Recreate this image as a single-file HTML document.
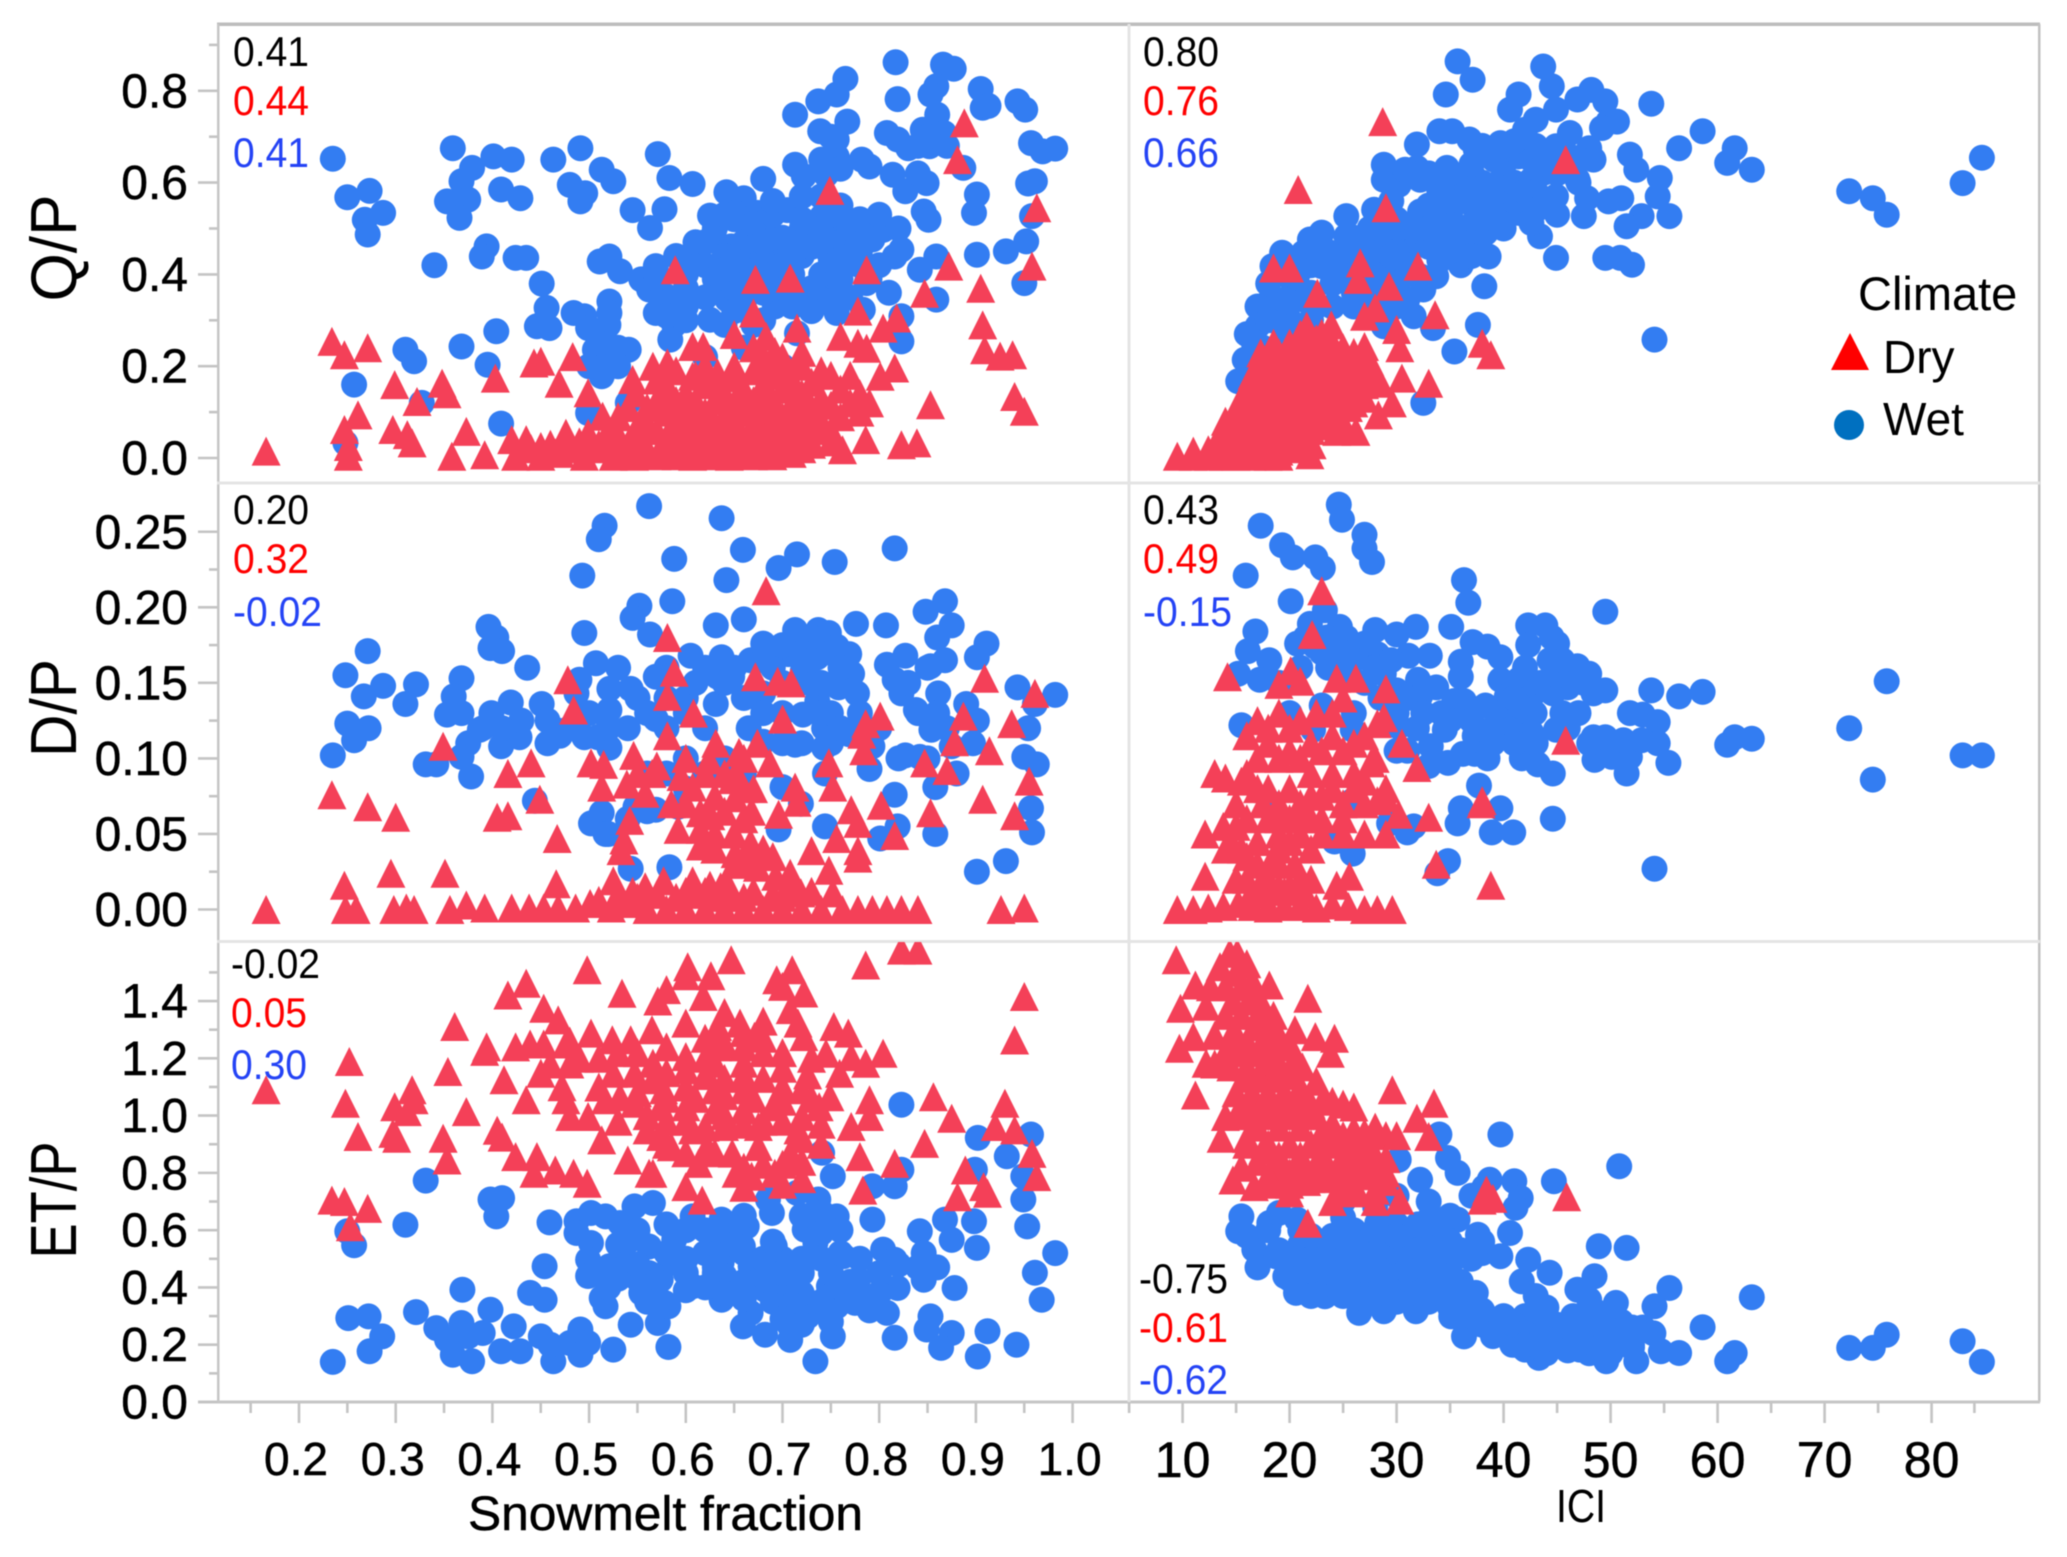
<!DOCTYPE html>
<html lang="en">
<head>
<meta charset="utf-8">
<title>Snowmelt fraction and ICI scatter matrix</title>
<style>
html,body{margin:0;padding:0;background:#fff;}
svg{display:block;filter:blur(.5px);}
text{font-family:"Liberation Sans",sans-serif;fill:#000;}
</style>
</head>
<body>
<svg id="chart" xmlns="http://www.w3.org/2000/svg" width="2067" height="1557" viewBox="0 0 2067 1557">
<rect x="0" y="0" width="2067" height="1557" fill="#fff"/>
<g id="frame">
<rect x="217" y="22.5" width="1823" height="3.5" fill="#bdbdbd"/>
<rect x="217" y="24" width="2.5" height="1378" fill="#c6c6c6"/>
<rect x="2038" y="24" width="2.5" height="1378" fill="#c2c2c2"/>
<rect x="198" y="1400.5" width="1842" height="3" fill="#c6c6c6"/>
<rect x="217" y="481.5" width="1823" height="3" fill="#e4e4e4"/>
<rect x="217" y="940" width="1823" height="3" fill="#e4e4e4"/>
<rect x="1127.5" y="24" width="3" height="1378" fill="#e4e4e4"/>
</g>
<g id="ticks"></g>
<g id="marks"></g>
<g id="corr" font-size="42">
<text x="233" y="66">0.41</text>
<text x="233" y="115" style="fill:#f00">0.44</text>
<text x="233" y="167" style="fill:#2443f5">0.41</text>
<text x="1143" y="66">0.80</text>
<text x="1143" y="115" style="fill:#f00">0.76</text>
<text x="1143" y="167" style="fill:#2443f5">0.66</text>
<text x="233" y="524">0.20</text>
<text x="233" y="573" style="fill:#f00">0.32</text>
<text x="233" y="626" style="fill:#2443f5">-0.02</text>
<text x="1143" y="524">0.43</text>
<text x="1143" y="573" style="fill:#f00">0.49</text>
<text x="1143" y="626" style="fill:#2443f5">-0.15</text>
<text x="231" y="978">-0.02</text>
<text x="231" y="1027" style="fill:#f00">0.05</text>
<text x="231" y="1079" style="fill:#2443f5">0.30</text>
<text x="1139" y="1293">-0.75</text>
<text x="1139" y="1342" style="fill:#f00">-0.61</text>
<text x="1139" y="1394" style="fill:#2443f5">-0.62</text>
</g>
<g>
<text transform="translate(76,248) rotate(-90)" text-anchor="middle" font-size="65" textLength="107" lengthAdjust="spacingAndGlyphs">Q/P</text>
<text transform="translate(76,708) rotate(-90)" text-anchor="middle" font-size="65" textLength="98" lengthAdjust="spacingAndGlyphs">D/P</text>
<text transform="translate(76,1200) rotate(-90)" text-anchor="middle" font-size="65" textLength="117" lengthAdjust="spacingAndGlyphs">ET/P</text>
<text x="468" y="1530" font-size="48" textLength="395" lengthAdjust="spacingAndGlyphs" stroke="#000" stroke-width=".5">Snowmelt fraction</text>
<text x="1556" y="1522" font-size="46" textLength="50" lengthAdjust="spacingAndGlyphs">ICI</text>
</g>
<g>
<text x="1858" y="310" font-size="47">Climate</text>
<polygon points="1850,333 1869,370 1831,370" fill="#ff0000"/>
<text x="1883" y="373" font-size="46">Dry</text>
<circle cx="1849" cy="425" r="15" fill="#0070c0"/>
<text x="1883" y="435" font-size="46">Wet</text>
</g>
</svg>
<script>
// Tick labels
const snowTicks = [0.2,0.3,0.4,0.5,0.6,0.7,0.8,0.9,1.0];
const snowMinor = [0.15,0.25,0.35,0.45,0.55,0.65,0.75,0.85,0.95];
const iciTicks = [10,20,30,40,50,60,70,80];
const iciMinor = [5,15,25,35,45,55,65,75,84];
const qpTicks = [0,0.2,0.4,0.6,0.8];
const qpMinor = [0.1,0.3,0.5,0.7,0.9];
const dpTicks = [0,0.05,0.1,0.15,0.2,0.25];
const dpMinor = [0.025,0.075,0.125,0.175,0.225];
const etpTicks = [0,0.2,0.4,0.6,0.8,1.0,1.2,1.4];
const etpMinor = [0.1,0.3,0.5,0.7,0.9,1.1,1.3,1.5];

// Series values, flat x,y pairs
const qpSnowWet = [.235,.652,.25,.568,.273,.582,.287,.534,.268,.519,.271,.487,.359,.675,.379,.632,.368,.603,.353,.559,.375,.563,.366,.523,.401,.657,.42,.65,.409,.585,.429,.566,.463,.65,.491,.675,.513,.628,.525,.603,.48,.595,.496,.577,.491,.559,.571,.662,.583,.61,.607,.597,.545,.54,.578,.542,.563,.501,.625,.528,.642,.579,.66,.566,.68,.608,.651,.534,.674,.534,.705,.54,
.713,.748,.765,.826,.737,.777,.756,.792,.817,.862,.819,.782,.866,.857,.877,.848,.859,.81,.853,.792,.905,.804,.907,.763,.913,.767,.943,.777,.951,.759,.739,.712,.767,.733,.756,.694,.808,.708,.819,.694,.83,.675,.845,.715,.86,.748,.867,.708,.852,.679,
.713,.639,.722,.614,.745,.617,.756,.657,.782,.65,.79,.635,.814,.617,.827,.581,.849,.599,.84,.62,.887,.632,.957,.686,.969,.668,.982,.674,.901,.574,.898,.534,.954,.598,.961,.603,.958,.527,.846,.537,.851,.519,
.804,.497,.816,.439,.859,.439,.842,.41,.901,.443,.931,.45,.952,.472,.95,.381,.859,.345,.394,.461,.389,.439,.424,.436,.435,.436,.34,.42,.451,.38,.456,.327,.446,.287,.459,.283,.484,.316,.495,.309,.521,.341,.521,.316,.517,.283,.499,.283,.506,.236,.521,.207,.513,.178,.541,.236,
.511,.428,.521,.439,.532,.407,.554,.389,.569,.418,.562,.367,.58,.352,.603,.356,.569,.316,.588,.29,.584,.258,.625,.301,.643,.345,.633,.374,.61,.439,.625,.476,.647,.461,.673,.476,.669,.418,.665,.359,.661,.389,.7,.447,.692,.33,.715,.272,.726,.505,.741,.526,.76,.512,.771,.476,.793,.476,.823,.454,.748,.447,.763,.418,.748,.381,.741,.345,.756,.316,.787,.381,.783,.323,.823,.309,.823,.254,
.31,.236,.319,.211,.368,.243,.404,.276,.395,.203,.257,.16,.327,.12,.409,.075,.248,.033,.499,.098,.54,.12,.65,.52,.68,.5,.7,.48,.72,.5,.74,.5,.76,.47,.78,.45,.64,.44,.66,.44,.68,.43,.72,.44,.74,.4,.76,.39,.78,.42,.62,.42,.6,.4,.7,.37,.72,.35,.65,.32,.67,.29,.64,.29,.6,.33,.68,.3,.62,.22,.66,.24,.7,.2];
const qpSnowWetDense = [.63,.5,.66,.47,.67,.51,.69,.53,.71,.46,.73,.46,.75,.53,.77,.5,.79,.5,.63,.39,.65,.37,.67,.385,.69,.4,.71,.4,.73,.37,.75,.43,.77,.44,.79,.39,.66,.33,.61,.47,.59,.44,.57,.39,.6,.37,.64,.53,.68,.47,.72,.57,.74,.57,.76,.55,.69,.56,.52,.29,.53,.24,.51,.25,.5,.2,.53,.2,.75,.34,.73,.32,.77,.35,.8,.42,.81,.36,.62,.35,.6,.3,.58,.31,.71,.33,.74,.47,.72,.52,.7,.42,.68,.36,.66,.41,.64,.41,.62,.47,.65,.43,.78,.52,.8,.53,.82,.5,.85,.7,.87,.68,.84,.68,.74,.65,.76,.63,.75,.7];
const qpSnowDry = [.166,.015,.234,.254,.247,.225,.271,.24,.261,.094,.247,.062,.251,.025,.251,.004,.299,.16,.348,.163,.322,.123,.353,.14,.297,.062,.312,.051,.317,.033,.358,.004,.373,.058,.392,.007,.403,.174,.443,.207,.45,.211,.483,.221,.469,.163,.42,.04,.435,.04,.424,.004,.45,.004,.465,.011,.476,.054,.499,.142,.514,.091,.499,.054,.521,.025,.495,.004,.525,.004,.547,.004,.558,.025,.545,.171,.548,.142,.566,.2,.581,.207,.558,.083,.551,.047,.577,.142,
.607,.243,.618,.243,.607,.178,.633,.185,.65,.269,.67,.316,.683,.265,.715,.283,.692,.232,.681,.2,.76,.265,.778,.25,.787,.239,.804,.283,.818,.305,.778,.32,.589,.41,.672,.389,.708,.392,.787,.41,.749,.583,.888,.73,.881,.65,.963,.545,.958,.418,.847,.359,.872,.418,.905,.37,.907,.29,.909,.236,.925,.222,.938,.225,.94,.134,.95,.102,.853,.116,.816,.196,.801,.178,.823,.029,.839,.033,.762,.018,.786,.04,.73,.03,.708,.047,.682,.018,.645,.004,.607,.004,
.58,.16,.6,.14,.62,.16,.64,.14,.66,.15,.68,.16,.7,.15,.72,.14,.74,.13,.76,.15,.78,.14,.79,.12,.58,.1,.6,.1,.62,.1,.64,.09,.66,.1,.68,.1,.7,.09,.72,.09,.74,.08,.76,.09,.78,.1,.57,.06,.59,.05,.61,.06,.63,.05,.65,.06,.67,.05,.69,.06,.71,.05,.73,.06,.75,.06,.56,.02,.58,.02,.6,.03,.62,.02,.64,.03,.66,.02,.68,.03,.7,.02,.72,.02,.5,.05,.52,.06,.54,.03,.48,.02,.51,.02,.53,.05,.46,.03,.44,.02,.62,.2,.65,.2,.68,.22,.7,.19,.72,.2,.74,.19];
const qpSnowDryDense = [.57,.125,.59,.125,.61,.125,.63,.125,.65,.12,.67,.125,.69,.125,.71,.12,.73,.11,.75,.115,.77,.12,.61,.18,.63,.17,.65,.175,.67,.19,.69,.18,.71,.17,.73,.165,.75,.18,.77,.18,.59,.08,.61,.075,.63,.075,.65,.08,.67,.075,.69,.08,.71,.075,.73,.035,.75,.035,.58,.045,.6,.045,.62,.045,.64,.04,.66,.04,.68,.045,.7,.04,.72,.045,.55,.07,.53,.09,.51,.03,.53,.015,.55,.01,.57,.005,.59,.005,.61,.01,.63,.005,.65,.01,.67,.005,.69,.005,.71,.01,.45,.025,.47,.01,.49,.035,.56,.11,.54,.11,.57,.17,.59,.19,.68,.13,.72,.23,.7,.22,.67,.24];
const qpIciWet = [35.7,.864,37.1,.824,34.6,.792,43.7,.853,44.5,.81,41.4,.792,40.6,.759,44.9,.759,43,.737,46.9,.781,48.2,.802,49.5,.777,49.8,.733,50.6,.733,49.2,.719,53.8,.772,58.6,.712,56.4,.675,61.6,.675,60.9,.643,63.2,.628,72.3,.581,74.5,.566,75.8,.53,84.7,.654,82.9,.599,54.1,.258,46.2,.708,
31.9,.683,34,.712,35.2,.712,36.8,.694,37.4,.672,39.7,.686,42,.715,42,.686,41.4,.657,44.9,.679,48,.675,48.4,.65,51.8,.661,52.4,.628,54.6,.61,54.4,.57,55.5,.527,52.9,.527,51.5,.505,51,.566,49.8,.559,47.8,.566,47.5,.527,46.9,.607,
28.8,.639,28.8,.606,30.2,.595,31.9,.632,30.8,.628,32.2,.606,34.7,.632,37.1,.617,37.1,.592,34.5,.581,27.9,.541,32.2,.537,33.6,.534,36.8,.556,39.1,.534,41.4,.534,44.3,.563,44.9,.57,40.9,.592,42.6,.606,43.7,.621,42.6,.65,39.1,.65,43.4,.483,44.9,.436,42.6,.512,49.5,.436,50.9,.436,52,.421,
25.3,.527,21.9,.476,21.3,.447,23,.491,25.3,.483,26.5,.454,28.8,.49,29.9,.476,31.6,.468,34,.468,35.2,.49,36.8,.505,38.3,.49,38.6,.439,36.8,.439,33.7,.396,38.2,.374,34.8,.497,18.4,.418,19.3,.447,20.7,.381,18.1,.341,19.5,.345,17,.287,19,.294,15.8,.214,16.7,.243,15.2,.167,19.5,.236,21.3,.345,23,.418,25.3,.418,27.6,.418,29.3,.418,30.9,.447,32.2,.396,32.5,.367,31,.345,31.6,.309,33.4,.283,28.8,.287,27,.345,37.6,.29,35.4,.232,32.5,.12,
24,.38,26,.39,28,.38,22,.3,24,.33,26,.33,28,.33,30,.38,30,.45,34,.43,36,.42,33,.55,38,.56,41,.56,43,.58,45,.53,35,.53,37,.47,40,.62,46,.63,47,.6,20,.3];
const qpIciWetDense = [22,.42,23.5,.45,25,.45,27,.44,28,.47,29,.45,31,.42,33,.46,35,.45,37,.44,21,.41,24,.44,26,.48,27.5,.5,29.5,.44,31.5,.5,33,.5,35,.56,36,.6,38,.6,39.5,.58,41,.6,42,.58,43,.54,44,.64,45,.62,43,.68,41,.69,40,.68,38,.68,37,.64,35,.62,34,.58,33,.62,29.5,.56,30,.52,18,.38,19.5,.4,20,.34,22,.36,24,.41,26,.36,28,.36,30,.33,31,.4,17,.33,18,.3,16,.27,17.5,.24,20,.27,22.5,.33,47,.65,46,.66,36,.56,40,.5,38,.52];
const qpIciDry = [28.7,.733,20.8,.585,45.8,.65,29,.545,18.5,.414,20,.414,26.6,.425,26.4,.389,32,.418,29.3,.374,22.6,.359,33.6,.312,28,.327,27,.309,30,.28,30.3,.24,38,.25,38.8,.225,30.5,.174,33,.163,29.6,.12,28.3,.094,25.3,.062,26.2,.058,24.4,.058,21.6,.287,23,.272,23.9,.29,27,.243,25.9,.2,27.6,.185,28.5,.163,17.3,.229,19,.229,20.7,.251,22.1,.243,23.6,.236,
9.5,.004,11,.004,12.4,.004,13.8,.004,15,.004,16.5,.004,18,.004,19,.004,11,.015,12.4,.018,13.5,.025,14.5,.04,16,.03,17.5,.03,21.9,.007,20.8,.033,22.1,.029,19.5,.036,13.5,.05,14.5,.07,15.5,.06,16.5,.07,18,.07,19.5,.07,21,.08,22.5,.1,24,.1,25.5,.11,15,.1,16,.12,17,.1,18.5,.11,20,.12,21.5,.13,23,.14,24.5,.15,26,.14,16,.15,17,.17,18,.15,19.5,.16,21,.17,22.5,.18,24,.19,25.5,.19,17,.2,18.5,.2,20,.2,21.5,.21,23,.22,24.5,.22,26,.2,20,.25,21,.27,22.5,.26,18,.19,16,.07,27,.13];
const qpIciDryDense = [17,.135,18,.13,19,.135,20,.14,21,.15,22,.15,23,.17,24,.165,25,.17,26,.17,27,.16,18,.17,19,.18,20,.18,21,.19,22,.2,23,.19,24,.21,25,.21,26,.23,16,.1,17,.08,18,.09,19,.09,20,.095,21,.1,22,.12,23,.115,24,.125,25,.13,26,.12,15,.045,16,.045,17,.05,18,.05,19,.05,20,.055,21,.06,14,.02,15,.02,16,.015,17,.015,18,.015,19,.015,20,.02,19.5,.22,21,.23,22,.225,23,.25,24,.25,18.5,.25,16.5,.18,15.5,.13,14,.08,25,.24,26.5,.18,27.5,.21,23,.08,24,.07,22,.06];
const dpSnowWet = [.562,.267,.637,.259,.516,.254,.51,.245,.588,.232,.659,.238,.715,.235,.696,.226,.754,.23,.816,.239,.493,.221,.642,.218,.586,.204,.552,.201,.545,.193,.495,.183,.563,.182,.631,.188,.66,.192,.868,.204,.848,.197,.875,.188,.86,.18,.807,.188,.776,.189,.713,.185,.737,.185,.748,.183,.68,.176,.756,.174,.396,.187,.404,.18,.398,.173,.41,.171,.271,.171,
.248,.155,.287,.148,.321,.149,.267,.141,.31,.136,.368,.153,.36,.141,.353,.129,.368,.13,.25,.123,.272,.12,.257,.112,.235,.102,.436,.16,.419,.137,.451,.136,.399,.13,.387,.119,.375,.11,.368,.101,.409,.108,.428,.114,.457,.11,.465,.119,.457,.125,.331,.096,.342,.096,.378,.088,
.507,.163,.49,.152,.521,.146,.543,.146,.487,.143,.521,.132,.569,.126,.509,.114,.521,.107,.495,.114,.605,.168,.58,.16,.569,.154,.637,.167,.633,.154,.648,.154,.667,.165,.706,.169,.721,.158,.736,.167,.769,.169,.772,.156,.758,.147,.777,.143,.736,.138,.721,.129,.743,.12,.769,.116,.793,.108,.631,.136,.68,.143,.665,.12,.68,.111,.713,.109,.743,.107,
.808,.162,.827,.168,.868,.165,.853,.161,.816,.152,.823,.143,.838,.132,.854,.119,.861,.143,.842,.101,.827,.102,.911,.176,.901,.167,.89,.136,.901,.125,.897,.11,.875,.108,.943,.147,.982,.142,.961,.136,.954,.12,.95,.101,.963,.096,.957,.067,.958,.051,.816,.076,.819,.055,.801,.047,.858,.05,.858,.081,.931,.032,.901,.025,.543,.027,.583,.028,.513,.064,.502,.057,.517,.05,.444,.072,.548,.068,.569,.066,.592,.068,.696,.053,.744,.055,.719,.07,.7,.081,.744,.09,.79,.093,
.62,.12,.64,.1,.6,.1,.56,.09,.54,.12,.58,.12,.66,.09,.7,.13,.73,.15,.75,.13,.78,.13,.8,.12,.82,.1,.6,.14,.55,.14,.53,.16];
const dpSnowWetDense = [.65,.16,.69,.16,.7,.15,.72,.15,.74,.15,.75,.17,.73,.18,.72,.17,.76,.16,.74,.13,.75,.11,.76,.12,.78,.12,.72,.11,.7,.11,.68,.13,.66,.14,.64,.15,.62,.16,.61,.15,.6,.13,.58,.14,.56,.13,.52,.12,.5,.13,.48,.12,.47,.115,.43,.125,.41,.12,.39,.12,.84,.13,.85,.16,.83,.15,.86,.13,.85,.1,.87,.12,.88,.09,.56,.065,.6,.08,.62,.09,.58,.09,.52,.05,.54,.06,.68,.165,.7,.175,.73,.165];
const dpSnowDry = [.166,0,.234,.076,.271,.068,.3,.061,.295,.024,.351,.024,.247,.016,.248,0,.259,0,.298,0,.311,.001,.319,0,.356,0,.373,.003,.392,.001,.42,.001,.438,.001,.453,.001,.468,.001,.486,.001,.501,.004,.523,.001,.541,.004,.56,0,.58,0,.6,0,.62,0,.64,0,.66,0,.68,0,.7,0,.72,0,.74,0,.762,0,.778,0,.793,0,.808,0,.823,0,.84,0,.926,0,.95,.001,
.466,.017,.525,.019,.558,.015,.577,.019,.607,.019,.625,.016,.636,.015,.643,.017,.674,.028,.693,.022,.708,.024,.748,.026,.752,.011,.719,.011,.55,.008,.59,.008,.63,.008,.66,.008,.7,.008,
.349,.108,.416,.09,.44,.097,.449,.073,.405,.061,.416,.062,.467,.047,.478,.152,.484,.132,.581,.18,.588,.157,.581,.141,.608,.13,.683,.211,.672,.154,.695,.151,.709,.15,.7,.126,.961,.143,.909,.153,.887,.128,.937,.123,.878,.111,.914,.105,.87,.092,.847,.097,.955,.085,.907,.073,.94,.062,.853,.064,.802,.069,.816,.049,.786,.123,.801,.128,.782,.116,.784,.105,.748,.097,.752,.081,.771,.066,.778,.057,.756,.047,.778,.039,.778,.034,.73,.039,
.713,.081,.715,.071,.696,.063,.668,.065,.687,.097,.674,.11,.655,.104,.631,.11,.624,.099,.581,.115,.546,.102,.502,.097,.515,.096,.513,.081,.539,.083,.558,.077,.565,.09,.595,.088,.607,.081,.648,.086,.655,.087,.64,.065,.651,.074,.615,.064,.626,.062,.592,.053,.615,.053,.615,.042,.542,.059,.536,.046,.533,.039,.667,.044,.651,.037,.671,.038];
const dpSnowDryDense = [.51,.006,.53,.01,.545,.012,.57,.01,.61,.01,.645,.008,.67,.012,.69,.01,.71,.015,.73,.012,.6,.012,.62,.012,.65,.03,.66,.03,.68,.04,.69,.035,.63,.05,.65,.05,.66,.06,.63,.075,.66,.08,.6,.07,.585,.07,.57,.095,.55,.09,.6,.1,.62,.09,.64,.09,.66,.1,.63,.04,.67,.08];
const dpIciWet = [24.6,.268,24.9,.258,17.3,.254,27,.248,27,.239,27.7,.23,19.3,.241,20.3,.233,22.4,.233,23.1,.226,15.9,.221,20.1,.204,36.3,.218,36.7,.203,35.1,.187,49.5,.197,42.3,.188,43.9,.188,45,.176,42.3,.175,44.3,.165,37.1,.177,38.5,.174,39.7,.167,36,.164,36,.154,39.7,.152,31.8,.187,30,.182,28,.185,33.1,.168,31.1,.168,28.2,.169,
23.3,.198,21.9,.189,24.7,.187,25.3,.18,20.7,.176,16.8,.184,16.1,.171,18.1,.165,15.2,.156,17.2,.152,22.4,.174,23.6,.16,27,.176,28.8,.156,46.9,.161,48,.156,49.5,.145,48.4,.143,46,.147,41.4,.152,42.6,.141,44.6,.143,40.3,.141,42.9,.13,53.8,.145,56.4,.141,58.6,.144,51.8,.13,53,.129,54.4,.124,54.4,.11,55.4,.097,51.5,.09,51.8,.101,48.5,.099,50.1,.101,48.4,.114,49.5,.114,51.2,.112,52.9,.112,61.6,.114,60.9,.109,63.2,.113,75.8,.151,72.3,.12,74.5,.086,82.9,.102,84.7,.102,54.1,.027,44.6,.06,40.9,.051,38.9,.051,39.7,.067,37.7,.082,36,.067,35.7,.057,34.8,.032,33.8,.024,
32,.152,33.7,.147,32.2,.141,35.4,.138,34.2,.13,36.3,.138,38.3,.135,39.7,.13,41.4,.125,15.5,.122,34.5,.119,37.3,.115,37.3,.103,36.2,.103,34.8,.097,33.2,.108,31.9,.12,30.2,.121,44.6,.09,41.7,.1,43.2,.096,44.9,.119,42.6,.117,40.6,.119,31,.051,31.6,.055,29.3,.057,24.2,.045,25.9,.037,25.9,.072,18.4,.07,22.2,.119,25.9,.119,20,.13,23,.135,26,.13,28.5,.14,30,.13,45.5,.13];
const dpIciWetDense = [21,.16,23,.17,25,.17,26,.165,28,.16,29.5,.165,19,.15,21.5,.18,23.5,.18,25,.155,27,.15,30,.145,31,.14,32.5,.13,35,.125,37,.125,39,.12,41,.11,43,.11,41.5,.135,43.5,.15,45,.155,45.5,.165,44.5,.18,46,.12,47,.13,48,.11,47.5,.15,42,.16,41,.14,39,.11,38.5,.1,33,.095,31,.105,30,.105];
const dpIciDry = [23,.211,22.1,.182,14.2,.154,20.1,.158,19,.149,21,.151,24.4,.153,26.2,.153,29,.146,45.8,.112,38,.072,37.9,.07,33,.061,33.7,.03,38.8,.016,12.1,.05,13.8,.055,12.1,.022,9.5,0,11,0,12.4,.001,13.8,.002,15.2,.004,16.5,.002,18,.001,19.5,.002,21,.002,22.5,.001,24,.003,25.5,.002,27,0,28.2,0,29.6,0,24.4,.016,25.6,.022,30.5,.11,31.9,.094,28.2,.123,28.8,.127,27.6,.097,29,.074,28.2,.072,30.2,.063,
13,.09,14,.087,15,.07,14.5,.045,16,.115,17,.125,18,.11,19,.13,20,.12,21,.125,22.5,.13,24,.13,25,.14,17,.1,19,.1,21,.1,23,.105,25,.105,27,.115,16,.06,17.5,.07,19,.07,21,.07,23,.075,25,.07,27,.07,29,.08,15.5,.04,17,.045,19,.05,21,.05,23,.05,25,.05,27,.05,29,.05,16,.02,17.5,.02,19,.03,20.5,.03,22,.02,15,.02,18.5,.035,15.5,.085,22,.09,24,.09,26,.09,14,.04];
const dpIciDryDense = [16,.035,17,.03,18,.02,19,.015,20,.015,21,.02,16.5,.012,17.5,.01,18.5,.012,19.5,.012,20.5,.012,21.5,.01,18,.06,19,.06,20,.06,21,.06,22,.04,18,.08,20,.08,22,.075,24,.08,26,.08,28,.1,18,.12,20,.105,22,.11,24,.115,26,.11,17,.08,16,.09,15,.055,23,.06,25,.06,27,.085,20,.045,22,.06,19,.04];
const etpSnowWet = [.331,.773,.398,.707,.41,.712,.404,.648,.31,.619,.25,.596,.257,.547,.459,.627,.454,.474,.439,.381,.454,.357,.369,.392,.321,.314,.251,.293,.272,.299,.286,.229,.273,.177,.235,.14,.342,.258,.353,.218,.368,.276,.359,.165,.379,.142,.375,.229,.398,.322,.39,.241,.409,.177,.422,.264,.429,.177,.45,.229,.463,.142,.491,.253,.48,.206,.499,.206,.491,.165,.525,.183,.543,.27,.582,.192,.571,.276,
.517,.334,.513,.363,.554,.381,.578,.346,.582,.334,.574,.427,.487,.631,.502,.66,.517,.648,.487,.59,.502,.555,.499,.497,.521,.474,.54,.485,.499,.44,.521,.427,.547,.683,.566,.695,.532,.625,.562,.543,.588,.567,.584,.486,.562,.45,.607,.648,.637,.637,.663,.613,.637,.543,.659,.543,.637,.486,.667,.474,.692,.544,.685,.462,
.685,.707,.715,.73,.737,.707,.689,.66,.741,.66,.756,.648,.723,.602,.734,.555,.763,.509,.793,.637,.793,.753,.752,.788,.741,.87,.816,.753,.823,.811,.607,.404,.637,.404,.682,.392,.711,.404,.748,.404,.778,.427,.804,.532,.816,.497,.842,.596,.868,.637,.898,.631,.875,.566,.901,.538,.846,.52,.878,.398,.846,.427,.819,.398,.808,.311,.853,.299,.849,.253,.875,.241,.816,.224,.864,.189,
.902,.159,.912,.247,.942,.2,.953,.613,.949,.707,.949,.788,.932,.858,.902,.922,.957,.934,.823,1.038,.961,.451,.968,.357,.982,.52,.899,.811,.637,.357,.659,.264,.682,.235,.667,.311,.708,.264,.734,.142,.708,.217,.752,.229,.756,.334,.726,.299,.775,.346,.63,.45,.69,.35,.72,.45,.75,.45,.6,.45,.7,.5,.55,.43,.46,.2];
const etpSnowWetDense = [.53,.55,.55,.6,.53,.43,.55,.48,.57,.42,.58,.52,.6,.5,.62,.52,.64,.44,.66,.42,.68,.44,.7,.42,.72,.38,.74,.35,.76,.4,.78,.36,.8,.38,.82,.48,.84,.47,.86,.47,.66,.52,.68,.5,.7,.45,.72,.5,.74,.5,.76,.52,.78,.5,.8,.45,.64,.6,.66,.65,.62,.6,.64,.38,.66,.36,.62,.4,.6,.39,.56,.35,.71,.34,.7,.29,.72,.27,.75,.28,.77,.42,.79,.32,.63,.47,.65,.55,.69,.56,.72,.65,.74,.59,.76,.6,.58,.62,.6,.6,.52,.4,.54,.56];
const etpSnowDry = [.166,1.09,.252,1.189,.248,1.043,.317,1.09,.319,1.055,.299,1.031,.312,1.014,.373,1.014,.392,1.224,.354,1.154,.361,1.311,.261,.927,.297,.938,.301,.921,.349,.921,.353,.845,.234,.705,.247,.7,.271,.676,.253,.612,.435,1.462,.416,1.421,.498,1.509,.534,1.427,.571,1.4,.602,1.52,.647,1.544,.71,1.509,.694,1.474,.786,1.526,.823,1.578,.84,1.578,.95,1.416,.94,1.264,
.453,1.375,.468,1.334,.502,1.288,.524,1.265,.543,1.265,.565,1.3,.58,1.24,.394,1.24,.424,1.24,.439,1.25,.453,1.25,.476,1.25,.48,1.18,.45,1.148,.412,1.125,.435,1.055,.472,1.101,.476,1.055,.48,.997,.499,.997,.517,1.055,.525,1.148,.547,1.148,.566,1.183,.566,1.125,.577,1.09,.532,1.066,.547,1.043,
.6,1.488,.626,1.488,.58,1.44,.618,1.416,.6,1.323,.633,1.311,.656,1.323,.671,1.277,.633,1.24,.6,1.206,.63,1.183,.66,1.183,.7,1.165,.726,1.142,.7,1.451,.722,1.428,.708,1.37,.716,1.323,.753,1.311,.768,1.288,.722,1.276,.745,1.218,.771,1.206,.804,1.218,.786,1.183,.759,1.148,.749,1.066,.738,1.031,.79,1.055,.856,1.066,.875,.991,.79,.997,.771,.962,.93,1.043,.92,.962,.94,.95,.847,.903,.958,.868,.963,.787,.889,.81,.881,.717,.908,.752,.912,.729,.816,.833,.783,.74,.78,.857,
.574,1.031,.6,1.031,.63,1.02,.66,1.02,.69,1.031,.72,.997,.6,1.1,.63,1.09,.66,1.09,.513,.915,.574,.927,.585,.891,.54,.845,.562,.799,.566,.799,.498,.764,.484,.799,.465,.81,.443,.799,.424,.857,.446,.857,.405,.949,.41,.925,.6,.752,.613,.833,.617,.705,.648,.869,.652,.799,.675,.892,.668,.788,.692,.799,.708,.869,.716,.95,.675,.962,.64,.962,.607,.95,.622,.892];
const etpSnowDryDense = [.58,1.15,.6,1.16,.62,1.14,.64,1.13,.66,1.14,.68,1.13,.7,1.1,.72,1.09,.58,1.06,.61,1.06,.64,1.07,.67,1.06,.7,1.05,.73,1.06,.55,1.08,.56,1,.58,.98,.6,.98,.62,.96,.64,1.,.66,.97,.68,.98,.7,.98,.72,.92,.74,.9,.74,.97,.62,1.27,.64,1.25,.66,1.24,.68,1.22,.66,1.29,.64,1.36,.68,1.33,.62,1.2,.68,1.27,.7,1.22,.73,1.2,.72,.84,.7,.83,.68,.83,.66,.82,.63,.87,.6,.87,.58,.9,.56,.95,.53,.98,.51,1.1,.49,1.2,.51,1.2,.53,1.22,.55,1.22,.48,1.26,.46,1.18,.72,.78,.7,.76,.66,.75];
const etpIciWet = [39.7,.934,50.8,.823,34,.934,34.8,.852,35.7,.8,32.2,.776,30.2,.846,38.7,.776,41,.771,44.7,.771,41.6,.712,41.1,.678,38.2,.75,15.5,.648,15.2,.596,18.1,.625,25,.643,20.7,.637,16.7,.532,18.7,.509,20.6,.381,19.6,.439,40.6,.59,37.6,.584,33.2,.648,35.7,.637,28.2,.625,48.9,.544,51.5,.538,28.8,.317,26.5,.311,23.3,.369,31.8,.317,42.3,.497,44.3,.451,41.7,.421,39.7,.509,48.5,.439,46.9,.392,50.5,.346,48,.357,55.5,.398,54.1,.334,63.2,.366,58.6,.261,56.4,.171,61.6,.171,60.9,.142,72.3,.189,74.5,.189,75.8,.235,82.9,.212,84.7,.14,49.6,.142,52.4,.142,43.3,.154,42,.183,40.8,.2,54.7,.177,47.1,.183,36.3,.229,35.1,.299,37.4,.381,36.8,.322,39.1,.276,
17,.47,19,.53,21,.55,23,.53,25,.55,27,.58,29,.56,31,.58,33,.58,35,.56,37,.5,38,.52,21,.47,23,.46,25,.47,27,.49,29,.48,31,.5,33,.5,35,.48,36,.42,22,.42,24,.41,26,.42,28,.42,30,.41,32,.43,34,.41,33,.35,35,.37,37,.36,22,.37,25,.37,27,.36,30,.35,16,.58,18,.6,21,.6,30,.62,28,.68,26,.6,
38,.27,40,.25,42,.3,44,.33,45,.27,43,.37,43,.25,41,.2,46,.22,48,.25,50,.22,52,.2,53,.26,51,.28,49,.31,47,.28,45,.2,44,.17,48,.17,50,.17,52,.19,54,.24,33,.7,30,.72,25,.7,19,.66,37,.72,35,.65];
const etpIciWetDense = [20,.5,22,.5,24,.5,26,.52,28,.52,30,.53,32,.53,34,.52,36,.53,38,.56,23,.42,25,.42,27,.46,29,.44,31,.46,33,.46,35,.44,34,.38,32,.38,29,.38,24,.45,20,.43,22,.46,36,.39,35,.33,37,.3,38,.32,39,.23,41,.27,43,.32,44,.28,44,.22,46,.25,46,.18,48,.21,49,.27,50,.25,51,.22,52,.26,49,.19,46.5,.3,40,.3,42,.24,42,.2,43,.2,22,.58,24,.58,26,.56,28,.6,30,.58,32,.62,34,.62];
const etpIciDry = [9.4,1.544,11.2,1.456,12.6,1.45,9.8,1.375,12.2,1.382,11,1.276,9.7,1.235,14.4,1.567,15.1,1.567,13.5,1.52,16,1.53,18.1,1.456,21.7,1.41,22.4,1.276,24.2,1.27,23.8,1.218,29.6,1.09,33.5,1.043,31.9,.991,33,.927,11.2,1.072,12.2,1.183,14,.997,13.6,.921,14.7,.775,16.7,.752,21.6,.77,24.6,.74,28,.74,30.3,.705,21.7,.624,38,.705,38.4,.74,39,.711,45.9,.717,
14,1.45,15.5,1.45,17,1.42,14,1.35,15.5,1.35,17,1.35,18.5,1.35,13,1.28,14.5,1.26,16,1.26,17.5,1.26,19,1.28,20.5,1.3,13,1.18,14.5,1.17,16,1.17,17.5,1.17,19,1.18,20.5,1.2,15,1.08,16.5,1.08,18,1.08,19.5,1.08,21,1.1,22.5,1.12,24,1.05,25,1.04,26,1.03,15,1,16.5,1,18,1,19.5,1,21,1,22.5,1,24,.97,26,.95,27,.94,28,.96,29,.93,30,.93,16,.92,18,.9,20,.9,22,.9,24,.9,26,.88,28,.86,17,.84,19,.82,21,.82,23,.83,25,.82,27,.82,29,.8,18.5,.76,20,.76,23,.78,26,.76,29,.77,15.5,.82,16,.9];
const etpIciDryDense = [14.7,1.4,16.2,1.4,15,1.5,16.5,1.47,17.5,1.38,14.8,1.3,16.7,1.31,18.2,1.31,19.8,1.24,14,1.22,15.5,1.22,17,1.22,18.5,1.22,20,1.25,21.2,1.17,15.7,1.13,17.2,1.13,18.7,1.13,20.2,1.14,21.7,1.06,23.2,1.06,16,1.04,17.5,1.04,19,1.04,20.5,1.04,22,1.04,17,.96,19,.96,21,.96,23,.94,25,.93,27,.9,17.5,.88,19,.86,21,.86,23,.87,25,.86,27,.86,29,.85,18,.79,20,.8,22,.78,24,.79,26,.8,28,.79,20,.73,24,.7,26,.73,28,.7];

const color = {wet:'#337df2', dry:'#f44058'};
const markerRadius = 13;
const triangleHalf = 14.5;

const xSnow = v => 299 + (v - 0.2) * 967;
const xIci = v => 1182.6 + (v - 10) * 10.7;
const yQp = v => 458 - 459 * v;
const yDp = v => 909.5 - 1511 * v;
const yEtp = v => 1402 - 286.4 * v;

const NS = 'http://www.w3.org/2000/svg';
const ticksLayer = document.getElementById('ticks');
const marksLayer = document.getElementById('marks');
const svg = document.getElementById('chart');

function panelClip(id, x, y, w, h) {
  let defs = svg.querySelector('defs');
  if (!defs) { defs = document.createElementNS(NS, 'defs'); svg.insertBefore(defs, svg.firstChild); }
  const cp = document.createElementNS(NS, 'clipPath');
  cp.setAttribute('id', id);
  const r = document.createElementNS(NS, 'rect');
  r.setAttribute('x', x); r.setAttribute('y', y); r.setAttribute('width', w); r.setAttribute('height', h);
  cp.appendChild(r);
  defs.appendChild(cp);
}

function drawPanel(name, xf, yf, wet, dry, cx, cy, cw, ch) {
  panelClip('clip-' + name, cx, cy, cw, ch);
  const g = document.createElementNS(NS, 'g');
  
  
  g.setAttribute('clip-path', 'url(#clip-' + name + ')');
  for (let i = 0; i < wet.length; i += 2) {
    const c = document.createElementNS(NS, 'circle');
    
    
    c.setAttribute('cx', xf(wet[i]).toFixed(1));
    c.setAttribute('cy', yf(wet[i + 1]).toFixed(1));
    c.setAttribute('r', markerRadius);
    c.setAttribute('fill', color.wet);
    g.appendChild(c);
  }
  for (let i = 0; i < dry.length; i += 2) {
    const px = xf(dry[i]), py = yf(dry[i + 1]);
    const t = document.createElementNS(NS, 'polygon');
    
    
    t.setAttribute('points', px.toFixed(1) + ',' + (py - triangleHalf).toFixed(1) + ' ' + (px + triangleHalf).toFixed(1) + ',' + (py + triangleHalf).toFixed(1) + ' ' + (px - triangleHalf).toFixed(1) + ',' + (py + triangleHalf).toFixed(1));
    t.setAttribute('fill', color.dry);
    g.appendChild(t);
  }
  marksLayer.appendChild(g);
}

function tickLine(x1, y1, x2, y2, name) {
  const l = document.createElementNS(NS, 'line');
  
  
  l.setAttribute('x1', x1); l.setAttribute('y1', y1); l.setAttribute('x2', x2); l.setAttribute('y2', y2);
  l.setAttribute('stroke', '#c4c4c4');
  l.setAttribute('stroke-width', '2.6');
  ticksLayer.appendChild(l);
}

function tickText(x, y, str, size, anchor, name) {
  const t = document.createElementNS(NS, 'text');
  
  
  t.setAttribute('x', x); t.setAttribute('y', y);
  t.setAttribute('font-size', size);
  t.setAttribute('text-anchor', anchor);
  t.setAttribute('stroke', '#000');
  t.setAttribute('stroke-width', '.5');
  t.textContent = str;
  ticksLayer.appendChild(t);
}

function yAxis(ticks, minor, yf, digits, name) {
  ticks.forEach(v => {
    tickLine(198, yf(v), 218, yf(v), name + '-major-tick');
    tickText(188, yf(v) + 16.5, v.toFixed(digits), 48, 'end', name + '-tick-label');
  });
  minor.forEach(v => tickLine(209, yf(v), 218, yf(v), name + '-minor-tick'));
}

function xAxis(ticks, minor, xf, digits, size, baseline, dx, name) {
  ticks.forEach(v => {
    tickLine(xf(v), 1402, xf(v), 1423, name + '-major-tick');
    tickText(xf(v) + dx, baseline, v.toFixed(digits), size, 'middle', name + '-tick-label');
  });
  minor.forEach(v => tickLine(xf(v), 1402, xf(v), 1413, name + '-minor-tick'));
}

yAxis(qpTicks, qpMinor, yQp, 1, 'qp-axis');
yAxis(dpTicks, dpMinor, yDp, 2, 'dp-axis');
yAxis(etpTicks, etpMinor, yEtp, 1, 'etp-axis');
xAxis(snowTicks, snowMinor, xSnow, 1, 46, 1475, -3, 'snowmelt-axis');
xAxis(iciTicks, iciMinor, xIci, 0, 50, 1477, 0, 'ici-axis');

drawPanel('qp-snowmelt', xSnow, yQp, qpSnowWet.concat(qpSnowWetDense), qpSnowDry.concat(qpSnowDryDense), 219, 26, 909, 456);
drawPanel('qp-ici', xIci, yQp, qpIciWet.concat(qpIciWetDense), qpIciDry.concat(qpIciDryDense), 1130, 26, 908, 456);
drawPanel('dp-snowmelt', xSnow, yDp, dpSnowWet.concat(dpSnowWetDense), dpSnowDry.concat(dpSnowDryDense), 219, 484, 909, 456);
drawPanel('dp-ici', xIci, yDp, dpIciWet.concat(dpIciWetDense), dpIciDry.concat(dpIciDryDense), 1130, 484, 908, 456);
drawPanel('etp-snowmelt', xSnow, yEtp, etpSnowWet.concat(etpSnowWetDense), etpSnowDry.concat(etpSnowDryDense), 219, 942, 909, 458);
drawPanel('etp-ici', xIci, yEtp, etpIciWet.concat(etpIciWetDense), etpIciDry.concat(etpIciDryDense), 1130, 942, 908, 458);

// Condense the correlation labels slightly, keeping them tall and narrow
document.querySelectorAll('#corr text').forEach(t => {
  t.setAttribute('textLength', (t.getComputedTextLength() * 0.93).toFixed(1));
  t.setAttribute('lengthAdjust', 'spacingAndGlyphs');
});
</script>
</body>
</html>
